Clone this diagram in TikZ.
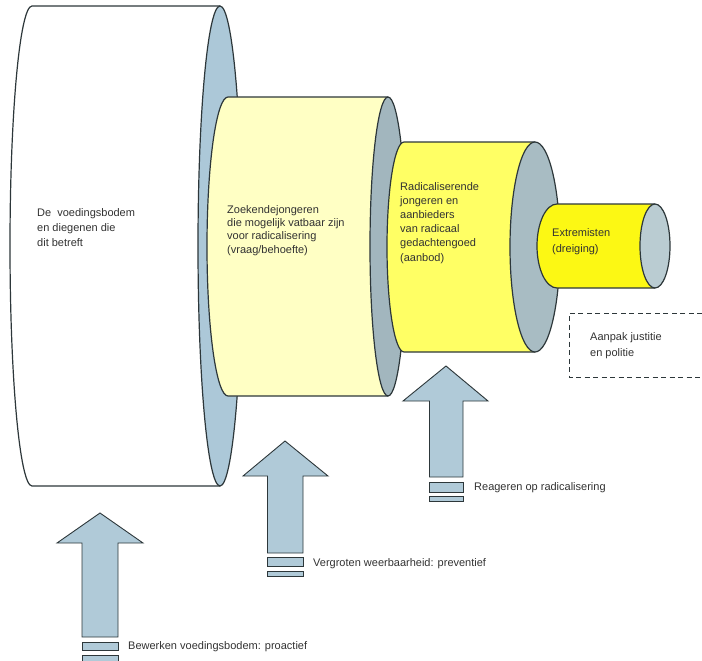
\documentclass[tikz,border=0pt]{standalone}
\usepackage{fontspec}
\setmainfont{Liberation Sans}
\definecolor{edge}{RGB}{45,55,58}
\definecolor{txt}{RGB}{50,50,50}
\definecolor{endblue}{RGB}{172,200,216}
\definecolor{endgrey}{RGB}{162,182,190}
\definecolor{endgreyb}{RGB}{168,188,195}
\definecolor{endlight}{RGB}{186,204,210}
\definecolor{paleyel}{RGB}{255,255,196}
\definecolor{midyel}{RGB}{255,255,100}
\definecolor{brightyel}{RGB}{252,248,20}
\definecolor{arrowfill}{RGB}{176,202,216}
\tikzset{
  outline/.style={draw=edge, line width=1.2pt, line join=round},
  lbl/.style={anchor=north west, inner sep=0pt, align=left, text=txt},
  big/.style={font=\fontsize{11}{15}\selectfont},
  arrowbody/.style={fill=arrowfill, draw=edge, line width=0.9pt, line join=miter},
}
\begin{document}
\begin{tikzpicture}[x=1pt,y=-1pt]
\useasboundingbox (0,0) rectangle (702,661);
% ---------- cylinder 1 (white) ----------
\fill[white] (32,6) -- (220,6) -- (220,486) -- (32,486) arc[start angle=90,end angle=270,x radius=22,y radius=240] -- cycle;
\draw[outline] (220,6) -- (32,6) arc[start angle=270,end angle=90,x radius=22,y radius=240] -- (220,486);
\filldraw[outline, fill=endblue] (220,246) ellipse[x radius=22, y radius=240];
% ---------- cylinder 2 (pale yellow) ----------
\fill[paleyel] (228,97) -- (388,97) -- (388,396) -- (228,396) arc[start angle=90,end angle=270,x radius=21,y radius=149.5] -- cycle;
\draw[outline] (388,97) -- (228,97) arc[start angle=270,end angle=90,x radius=21,y radius=149.5] -- (388,396);
\filldraw[outline, fill=endgrey] (388,246.5) ellipse[x radius=18, y radius=149.5];
% ---------- cylinder 3 (yellow) ----------
\fill[midyel] (404,142) -- (535,142) -- (535,352) -- (404,352) arc[start angle=90,end angle=270,x radius=17,y radius=105] -- cycle;
\draw[outline] (535,142) -- (404,142) arc[start angle=270,end angle=90,x radius=17,y radius=105] -- (535,352);
\filldraw[outline, fill=endgreyb] (535,247) ellipse[x radius=25, y radius=105];
% ---------- cylinder 4 (bright yellow) ----------
\fill[brightyel] (557,204) -- (655,204) -- (655,288) -- (557,288) arc[start angle=90,end angle=270,x radius=20,y radius=42] -- cycle;
\draw[outline] (655,204) -- (557,204) arc[start angle=270,end angle=90,x radius=20,y radius=42] -- (655,288);
\filldraw[outline, fill=endlight] (655,246) ellipse[x radius=15, y radius=42];
% ---------- texts in cylinders ----------
\node[lbl, big] (t1) at (37,208) {De\ \ voedingsbodem\\en diegenen die\\dit betreft};
\node[lbl, font=\fontsize{11}{13.4}\selectfont] (t2) at (227,205) {Zoekendejongeren\\die mogelijk vatbaar zijn\\voor radicalisering\\(vraag/behoefte)};
\node[lbl, font=\fontsize{11}{14.2}\selectfont] (t3) at (400,182) {Radicaliserende\\jongeren en\\aanbieders\\van radicaal\\gedachtengoed\\(aanbod)};
\node[lbl, font=\fontsize{11}{16.5}\selectfont] (t4) at (552,228) {Extremisten\\(dreiging)};
% ---------- dashed box ----------
\draw[edge, line width=0.9pt, dash pattern=on 5pt off 3.5pt] (702,313) -- (569,313) -- (569,377) -- (702,377);
\node[lbl, font=\fontsize{11}{16}\selectfont] (t5) at (590,332) {Aanpak justitie\\en politie};
% ---------- arrow 1 ----------
\path[arrowbody] (82,637) -- (82,543) -- (57,543) -- (100,513) -- (143,543) -- (118,543) -- (118,637) -- cycle;
\path[arrowbody] (82,642) rectangle (118,650);
\path[arrowbody] (82,655) rectangle (118,663);
\node[lbl, big] (l1) at (128,641) {Bewerken voedingsbodem: proactief};
% ---------- arrow 2 ----------
\path[arrowbody] (267.5,553) -- (267.5,476) -- (243,476) -- (285,441) -- (328,476) -- (303,476) -- (303,553) -- cycle;
\path[arrowbody] (267.5,557) rectangle (303,566);
\path[arrowbody] (267.5,571) rectangle (303,576);
\node[lbl, big] (l2) at (313,558) {Vergroten weerbaarheid: preventief};
% ---------- arrow 3 ----------
\path[arrowbody] (429.5,477) -- (429.5,401) -- (403,401) -- (446,366) -- (488,401) -- (463,401) -- (463,477) -- cycle;
\path[arrowbody] (429.5,482) rectangle (463,492);
\path[arrowbody] (429.5,496) rectangle (463,501);
\node[lbl, big] (l3) at (474,482) {Reageren op radicalisering};
\end{tikzpicture}
\end{document}
